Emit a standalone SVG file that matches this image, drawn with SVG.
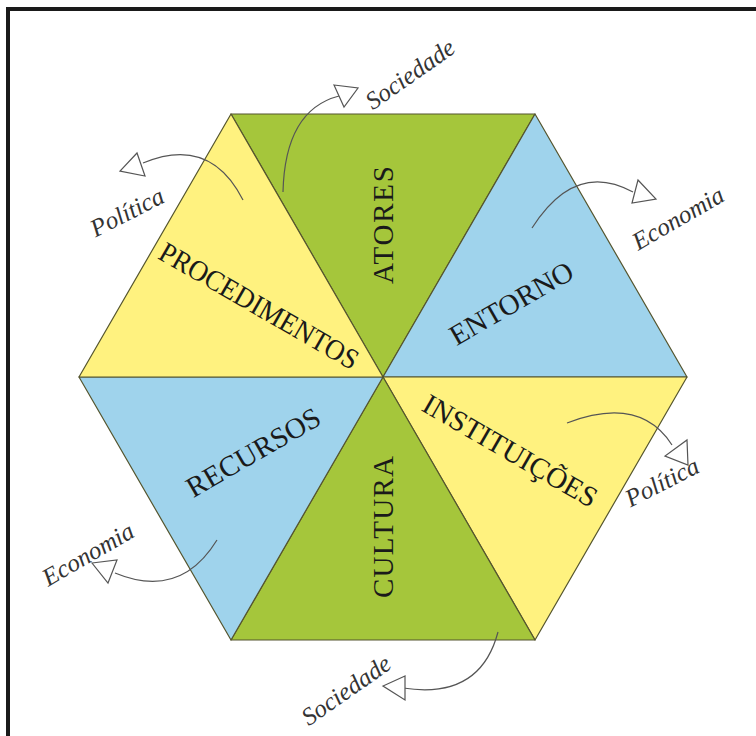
<svg xmlns="http://www.w3.org/2000/svg" width="756" height="736" viewBox="0 0 756 736">
<style>
.tri{stroke:#55552e;stroke-width:1.2;stroke-linejoin:round}
.g{fill:#a5c63b}.y{fill:#fff27f}.b{fill:#9fd3ec}
.lbl{font-family:"Liberation Serif","Times New Roman",serif;font-size:29px;fill:#1a1a1a;text-anchor:middle;dominant-baseline:central}
.scr{font-family:"Liberation Serif",serif;font-style:italic;font-size:25px;fill:#333;text-anchor:middle;dominant-baseline:central}
.cv{fill:none;stroke:#555;stroke-width:1.2}
.ah{fill:#fff;stroke:#555;stroke-width:1.2;stroke-linejoin:miter}
</style>
<rect x="0" y="0" width="756" height="736" fill="#fff"/>
<rect x="8" y="9" width="780" height="760" fill="none" stroke="#1a1a1a" stroke-width="4"/>
<g id="atores"><polygon class="tri g" points="231,114 535,114 383,377"/><text class="lbl" transform="translate(383,377) rotate(-90)" x="152" y="0" textLength="118" lengthAdjust="spacing">ATORES</text></g>
<g id="entorno"><polygon class="tri b" points="535,114 687,377 383,377"/><text class="lbl" transform="translate(383,377) rotate(-30)" x="148" y="0">ENTORNO</text></g>
<g id="instituicoes"><polygon class="tri y" points="687,377 535,640 383,377"/><text class="lbl" transform="translate(383,377) rotate(30)" x="147" y="0">INSTITUIÇÕES</text></g>
<g id="cultura"><polygon class="tri g" points="535,640 231,640 383,377"/><text class="lbl" transform="translate(383,377) rotate(-90)" x="-150" y="0" textLength="142" lengthAdjust="spacing">CULTURA</text></g>
<g id="recursos"><polygon class="tri b" points="231,640 79,377 383,377"/><text class="lbl" transform="translate(383,377) rotate(-30)" x="-150" y="0">RECURSOS</text></g>
<g id="procedimentos"><polygon class="tri y" points="79,377 231,114 383,377"/><text class="lbl" transform="translate(383,377) rotate(30)" x="-143" y="0" textLength="225" lengthAdjust="spacingAndGlyphs">PROCEDIMENTOS</text></g>
<g id="connectors">
<path class="cv" d="M283,192 Q285,110 339,96"/><polygon class="ah" points="334,85 358,88 344,107"/>
<path class="cv" d="M243,200 Q210,135 143,163"/><polygon class="ah" points="137,153 120,171 145,176"/>
<path class="cv" d="M532,228 Q575,160 633,192"/><polygon class="ah" points="638,180 656,199 632,203"/>
<path class="cv" d="M567,423 Q640,395 672,445"/><polygon class="ah" points="687,440 688,465 665,456"/>
<path class="cv" d="M217,540 Q180,600 115,573"/><polygon class="ah" points="92,563 117,560 108,583"/>
<path class="cv" d="M498,632 Q480,700 403,688"/><polygon class="ah" points="405,676 383,686 405,700"/>
</g>
<g id="labels">
<text class="scr" transform="translate(410,74) rotate(-35)">Sociedade</text>
<text class="scr" transform="translate(127,212) rotate(-27)">Política</text>
<text class="scr" transform="translate(678,218) rotate(-30)">Economia</text>
<text class="scr" transform="translate(662,482) rotate(-27)">Política</text>
<text class="scr" transform="translate(88,554) rotate(-30)">Economia</text>
<text class="scr" transform="translate(346,690) rotate(-35)">Sociedade</text>
</g>
</svg>
